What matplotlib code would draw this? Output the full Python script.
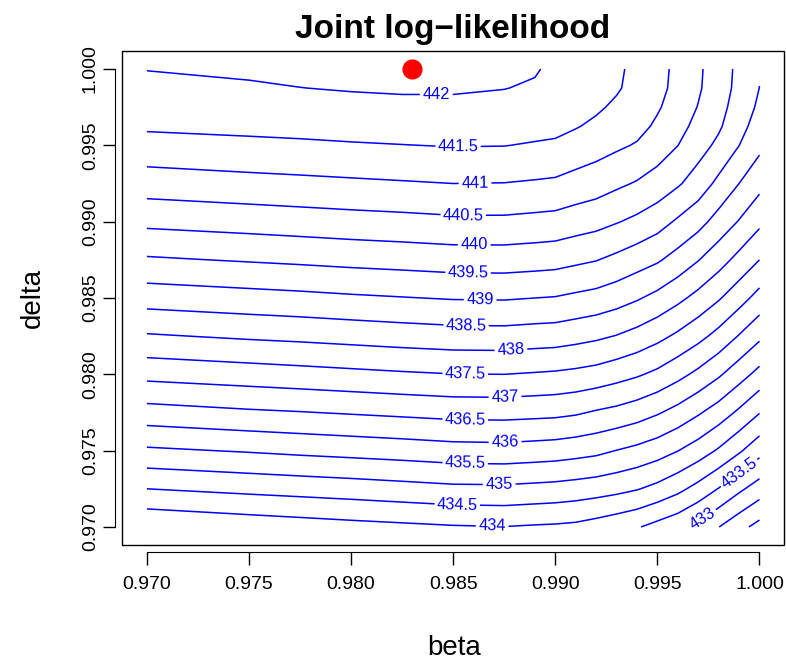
import matplotlib
matplotlib.use("Agg")
import matplotlib.pyplot as plt
from matplotlib.patches import Rectangle
import numpy as np

# grid (contour crossings converted to values)
beta = [0.970, 0.975, 0.9775, 0.980, 0.9825, 0.985, 0.9875, 0.989, 0.990, 0.991,
        0.992, 0.993, 0.994, 0.995, 0.996, 0.997, 0.998, 0.999, 1.000]
delta_top_down = [1.000, 0.99875, 0.9975, 0.99625, 0.995, 0.9925, 0.990, 0.9875,
                  0.985, 0.9825, 0.980, 0.9775, 0.975, 0.9725, 0.970]

# joint log-likelihood, one list per beta column, delta from 1.000 down to 0.970
loglik_by_beta = [
    [442.01, 441.90, 441.77, 441.57, 441.32, 440.75, 440.12, 439.44, 438.72, 437.95, 437.15, 436.30, 435.42, 434.50, 433.55],
    [442.07, 441.95, 441.80, 441.62, 441.39, 440.84, 440.21, 439.54, 438.82, 438.07, 437.26, 436.43, 435.54, 434.63, 433.70],
    [442.11, 441.995, 441.84, 441.65, 441.42, 440.88, 440.26, 439.59, 438.87, 438.12, 437.32, 436.48, 435.61, 434.69, 433.77],
    [442.14, 442.03, 441.87, 441.68, 441.46, 440.92, 440.31, 439.645, 438.93, 438.18, 437.38, 436.54, 435.67, 434.75, 433.84],
    [442.16, 442.05, 441.90, 441.71, 441.49, 440.96, 440.35, 439.69, 438.98, 438.24, 437.44, 436.60, 435.73, 434.82, 433.90],
    [442.16, 442.05, 441.90, 441.72, 441.52, 441.00, 440.40, 439.74, 439.03, 438.29, 437.49, 436.66, 435.80, 434.89, 433.96],
    [442.12, 442.01, 441.86, 441.70, 441.51, 440.99, 440.40, 439.745, 439.04, 438.30, 437.50, 436.67, 435.82, 434.90, 433.99],
    [442.04, 441.95, 441.81, 441.66, 441.46, 440.95, 440.36, 439.71, 439.00, 438.26, 437.46, 436.64, 435.78, 434.86, 433.95],
    [441.90, 441.87, 441.78, 441.64, 441.42, 440.92, 440.33, 439.68, 438.975, 438.24, 437.43, 436.62, 435.75, 434.83, 433.93],
    [441.80, 441.77, 441.68, 441.53, 441.31, 440.82, 440.24, 439.60, 438.90, 438.17, 437.38, 436.56, 435.69, 434.78, 433.89],
    [441.68, 441.65, 441.57, 441.41, 441.20, 440.73, 440.16, 439.52, 438.83, 438.09, 437.31, 436.45, 435.62, 434.72, 433.79],
    [441.58, 441.55, 441.42, 441.26, 441.08, 440.59, 440.03, 439.38, 438.71, 437.98, 437.19, 436.36, 435.49, 434.64, 433.67],
    [441.38, 441.35, 441.28, 441.15, 440.96, 440.46, 439.89, 439.22, 438.55, 437.83, 437.06, 436.23, 435.37, 434.53, 433.54],
    [441.15, 441.13, 441.05, 440.92, 440.74, 440.30, 439.70, 439.06, 438.36, 437.64, 436.89, 436.05, 435.22, 434.36, 433.34],
    [440.89, 440.87, 440.79, 440.67, 440.505, 440.06, 439.43, 438.81, 438.12, 437.41, 436.65, 435.83, 435.01, 434.13, 433.15],
    [440.58, 440.56, 440.48, 440.35, 440.20, 439.77, 439.17, 438.52, 437.85, 437.15, 436.38, 435.56, 434.76, 433.83, 432.87],
    [440.24, 440.22, 440.16, 440.07, 439.89, 439.38, 438.81, 438.20, 437.55, 436.84, 436.07, 435.27, 434.44, 433.48, 432.51],
    [439.89, 439.87, 439.79, 439.67, 439.505, 439.00, 438.47, 437.85, 437.20, 436.47, 435.71, 434.91, 434.07, 433.10, 432.16],
    [439.54, 439.495, 439.41, 439.28, 439.12, 438.65, 438.11, 437.50, 436.82, 436.10, 435.34, 434.52, 433.67, 432.76, 431.83],
]

levels = [432.0, 432.5, 433.0, 433.5, 434.0, 434.5, 435.0, 435.5, 436.0, 436.5, 437.0,
          437.5, 438.0, 438.5, 439.0, 439.5, 440.0, 440.5, 441.0, 441.5, 442.0]

# where the reference puts each contour label
label_spots = [
    (0.98417, 0.99817), (0.98524, 0.99483), (0.98607, 0.99247), (0.98549, 0.99044),
    (0.98603, 0.98847), (0.98573, 0.98670), (0.98632, 0.98487), (0.98563, 0.98317),
    (0.98783, 0.98153), (0.98559, 0.97989), (0.98754, 0.97845), (0.98559, 0.97701),
    (0.98754, 0.97557), (0.98559, 0.97419), (0.98725, 0.97288), (0.98520, 0.97151),
    (0.98691, 0.97013), (0.99901, 0.97352), (0.99718, 0.97057),
]

mle_beta = 0.983
mle_delta = 1.000

xticks = [0.970, 0.975, 0.980, 0.985, 0.990, 0.995, 1.000]
yticks = [0.970, 0.975, 0.980, 0.985, 0.990, 0.995, 1.000]

plt.rcParams["font.family"] = ["Liberation Sans", "DejaVu Sans"]

W, H = 786, 662
fig = plt.figure(figsize=(W / 100, H / 100), dpi=100)
ax = fig.add_axes([122.4 / W, 1 - 545.3 / H, (784 - 122.4) / W, (545.3 - 50.7) / H])

delta = delta_top_down[::-1]
Z = np.array(loglik_by_beta).T[::-1]

cs = ax.contour(beta, delta, Z, levels=levels, colors="blue", linewidths=1.1)
ax.clabel(cs, inline=True, inline_spacing=4, fontsize=11.8,
          fmt=lambda v: f"{v:g}", manual=label_spots)

ax.plot([mle_beta], [mle_delta], "o", color="red", markersize=13.5, zorder=5)

ax.set_xlim(0.9688, 1.0012)
ax.set_ylim(0.9688, 1.0012)

for side in ("top", "right"):
    ax.spines[side].set_visible(False)
ax.spines["bottom"].set_position(("outward", 5))
ax.spines["left"].set_position(("outward", 5))
ax.spines["bottom"].set_bounds(0.970, 1.000)
ax.spines["left"].set_bounds(0.970, 1.000)
ax.add_patch(Rectangle((0, 0), 1, 1, transform=ax.transAxes, fill=False,
                       edgecolor="black", linewidth=1.0, clip_on=False))

ax.set_xticks(xticks)
ax.set_yticks(yticks)
ax.set_xticklabels([f"{t:.3f}" for t in xticks])
ax.set_yticklabels([f"{t:.3f}" for t in yticks], rotation=90, va="center")
ax.tick_params(direction="out", length=9, width=1.0, labelsize=14)
ax.tick_params(axis="x", pad=8)
ax.tick_params(axis="y", pad=3)

fig.text(453 / W, 1 - 38 / H, "Joint log\u2212likelihood", ha="center", va="baseline",
         fontsize=24, fontweight="bold")
fig.text(454 / W, 1 - 648 / H, "beta", ha="center", va="center", fontsize=20)
fig.text(33 / W, 1 - 298 / H, "delta", ha="center", va="center", fontsize=20, rotation=90)

fig.savefig("out.png", dpi=100)
